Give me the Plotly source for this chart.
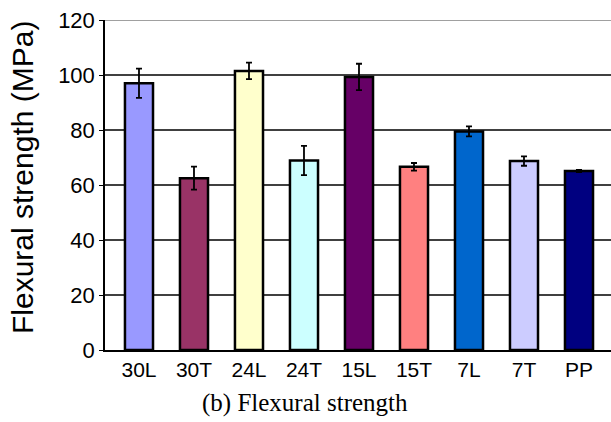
import plotly.graph_objects as go

categories = ["30L", "30T", "24L", "24T", "15L", "15T", "7L", "7T", "PP"]
strength = [97.0, 62.5, 101.5, 68.9, 99.3, 66.6, 79.5, 68.7, 65.1]
errors = [5.3, 4.2, 3.0, 5.3, 4.8, 1.4, 1.8, 1.7, 0.4]
colors = ["#9999FF", "#993366", "#FFFFCC", "#CCFFFF", "#660066",
          "#FF8080", "#0066CC", "#CCCCFF", "#000080"]
yticks = [0, 20, 40, 60, 80, 100, 120]
ytitle = "Flexural strength (MPa)"
caption = "(b) Flexural strength"

W, H = 611, 422
L, R, T, B = 105, 0, 20, 72
pw, ph = W - L - R, H - T - B

fig = go.Figure()
fig.add_trace(go.Bar(
    x=categories, y=strength,
    marker=dict(color=colors, line=dict(color="black", width=2.5)),
    error_y=dict(type="data", array=errors, color="black", thickness=1.8, width=3),
    showlegend=False,
))

grid_shapes = [
    dict(type="line", xref="paper", yref="y", x0=0, x1=1, y0=v, y1=v,
         line=dict(color="black", width=1.3), layer="below")
    for v in yticks[1:-1]
]
grid_shapes.append(
    dict(type="line", xref="paper", yref="y", x0=0, x1=1, y0=yticks[-1], y1=yticks[-1],
         line=dict(color="#808080", width=1.5), layer="above"))

fig.update_layout(
    width=W, height=H,
    margin=dict(l=L, r=R, t=T, b=B, pad=0),
    paper_bgcolor="white", plot_bgcolor="white",
    bargap=0.49,
    font=dict(family="Arial, Liberation Sans, sans-serif", color="black"),
    xaxis=dict(
        type="category", range=[-0.618, 8.582],
        showgrid=False, showline=True, linecolor="black", linewidth=1.5,
        ticks="", tickfont=dict(size=21, family="Liberation Sans, Arial"),
        zeroline=False,
    ),
    yaxis=dict(
        range=[0, 120], tickvals=yticks,
        showgrid=False,
        showline=True, linecolor="black", linewidth=1.5,
        ticks="outside", ticklen=4, tickcolor="black", tickwidth=1,
        tickfont=dict(size=22, family="Liberation Sans, Arial"),
        zeroline=False,
    ),
    shapes=grid_shapes,
    annotations=[
        dict(text=ytitle, xref="paper", yref="paper",
             x=(22 - L) / pw, y=(H - B - 178) / ph, textangle=-90,
             showarrow=False, xanchor="center", yanchor="middle",
             font=dict(size=30, family="Liberation Sans, Arial")),
        dict(text=caption, xref="paper", yref="paper",
             x=(305 - L) / pw, y=(H - B - 403) / ph,
             showarrow=False, xanchor="center", yanchor="middle",
             font=dict(size=25, family="Liberation Serif, Times New Roman, serif")),
    ],
)

fig.write_html("out.html", config={"displayModeBar": False},
               post_script="document.body.style.margin='0px';")
